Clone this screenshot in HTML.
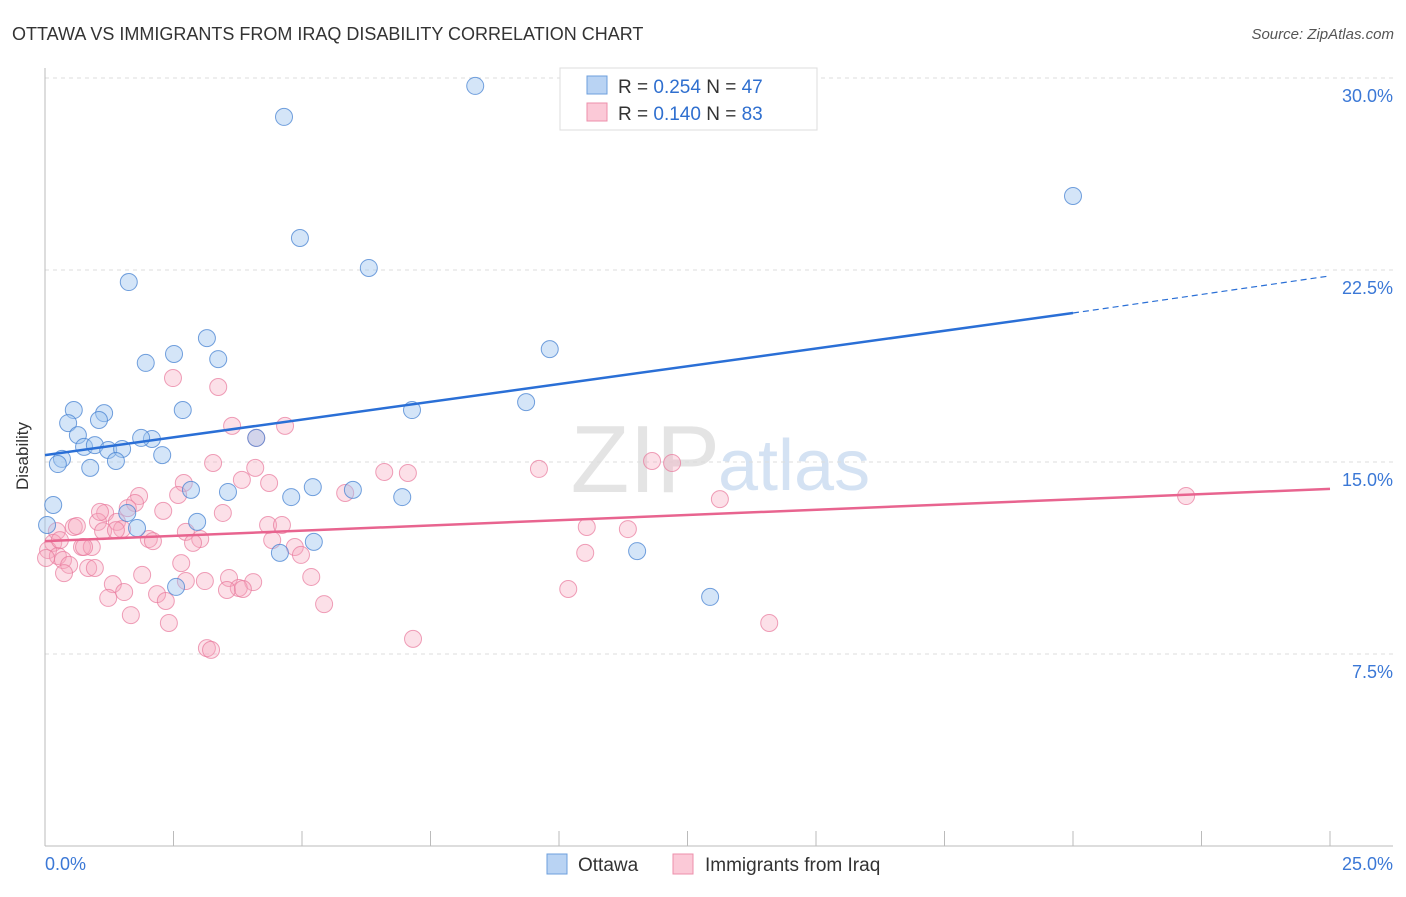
<!DOCTYPE html>
<html><head><meta charset="utf-8"><style>
body{margin:0;background:#fff;font-family:"Liberation Sans",sans-serif;}
svg text{font-family:"Liberation Sans",sans-serif;}
</style></head><body>
<svg id="c" width="1406" height="892">
<text x="12" y="40" font-size="18" fill="#333">OTTAWA VS IMMIGRANTS FROM IRAQ DISABILITY CORRELATION CHART</text>
<text x="1394" y="39" font-size="15" fill="#555" text-anchor="end" font-style="italic">Source: ZipAtlas.com</text>
<text x="720" y="492" font-size="96" fill="#e4e4e4" text-anchor="end" font-family="Liberation Serif">ZIP</text>
<text x="718" y="490" font-size="72" fill="#d4e2f3">atlas</text>
<g id="grid"></g><g id="axes"></g><g id="pts"></g><g id="lines"></g>
<g>
<rect x="560" y="68" width="257" height="62" fill="#fff" stroke="#ddd"/>
<rect x="587" y="76" width="20" height="18" fill="#b9d3f3" stroke="#6d9fdc"/>
<rect x="587" y="103" width="20" height="18" fill="#fbc9d7" stroke="#ec8fab"/>
<text x="618" y="93" font-size="19" fill="#333">R = <tspan fill="#2f6fcf">0.254</tspan>   N = <tspan fill="#2f6fcf">47</tspan></text>
<text x="618" y="120" font-size="19" fill="#333">R = <tspan fill="#2f6fcf">0.140</tspan>   N = <tspan fill="#2f6fcf">83</tspan></text>
</g>
<g>
<rect x="547" y="854" width="20" height="20" fill="#b9d3f3" stroke="#6d9fdc"/>
<text x="578" y="871" font-size="19" fill="#333">Ottawa</text>
<rect x="673" y="854" width="20" height="20" fill="#fbc9d7" stroke="#ec8fab"/>
<text x="705" y="871" font-size="19" fill="#333">Immigrants from Iraq</text>
</g>
<text x="28" y="456" font-size="17" fill="#333" transform="rotate(-90 28 456)" text-anchor="middle">Disability</text>
</svg>
<script>
const yTicks=[7.5,15,22.5,30];
const yTickLabels=["7.5%","15.0%","22.5%","30.0%"];
const xTicks=[0,2.5,5,7.5,10,12.5,15,17.5,20,22.5,25];
const xEndLabels=["0.0%","25.0%"];
const ottawaX=[8.37,4.65,20.0,4.96,6.30,1.63,3.15,9.82,2.51,1.96,3.37,2.68,0.56,1.15,9.36,7.14,0.45,1.05,0.64,2.08,1.87,4.11,0.76,0.97,1.23,1.50,2.28,0.33,0.25,0.88,1.38,0.16,2.84,3.56,5.21,4.79,5.99,6.95,1.60,2.96,1.79,0.04,4.57,5.23,11.52,2.55,12.94];
const ottawaY=[29.69,28.48,25.39,23.75,22.58,22.03,19.84,19.41,19.22,18.87,19.02,17.03,17.03,16.91,17.34,17.03,16.52,16.64,16.05,15.90,15.94,15.94,15.59,15.66,15.47,15.51,15.27,15.12,14.92,14.77,15.04,13.32,13.91,13.83,14.02,13.63,13.91,13.63,13.01,12.66,12.42,12.54,11.45,11.88,11.52,10.12,9.73];
const iraqX=[2.49,3.37,3.64,4.67,4.11,3.27,4.09,2.70,3.83,4.36,9.61,6.60,7.06,11.81,12.20,2.59,5.84,1.83,1.75,2.30,1.61,1.17,3.46,13.13,22.20,0.56,1.03,1.40,2.74,4.34,4.61,10.54,11.34,0.23,0.62,1.50,2.02,2.10,3.02,4.42,4.86,0.16,0.72,0.91,1.13,0.06,0.25,0.02,0.35,0.47,4.98,10.51,0.84,0.97,2.88,2.65,0.37,1.89,3.58,5.18,1.32,3.11,4.05,2.74,1.23,1.54,2.18,3.77,3.54,3.85,2.35,5.43,10.18,1.67,2.41,14.09,7.16,3.15,3.23,0.76,0.29,1.07,1.38];
const iraqY=[18.28,17.93,16.41,16.41,15.94,14.96,14.77,14.18,14.30,14.18,14.73,14.61,14.57,15.04,14.96,13.71,13.79,13.67,13.40,13.09,13.20,13.01,13.01,13.55,13.67,12.46,12.66,12.66,12.27,12.54,12.54,12.46,12.38,12.30,12.50,12.38,11.99,11.91,11.99,11.95,11.68,11.84,11.68,11.68,12.30,11.56,11.33,11.25,11.17,10.98,11.37,11.45,10.86,10.86,11.84,11.05,10.66,10.59,10.47,10.51,10.23,10.35,10.31,10.35,9.69,9.92,9.84,10.08,10.00,10.04,9.57,9.45,10.04,9.02,8.71,8.71,8.09,7.73,7.66,11.68,11.95,13.05,12.34];
const ottawaTrend=[15.27,20.82,22.27]; // at x=0, 20, 25
const iraqTrend=[11.91,13.95]; // at x=0, 25
const sx=v=>45+v*51.4, sy=v=>846-v*25.6;
const NS="http://www.w3.org/2000/svg";
function mk(t,a,p){const e=document.createElementNS(NS,t);for(const k in a)e.setAttribute(k,a[k]);p.appendChild(e);return e;}
const G=document.getElementById('grid'),A=document.getElementById('axes'),P=document.getElementById('pts'),L=document.getElementById('lines');
yTicks.forEach((t,i)=>{
 const l=mk('line',{x1:45,x2:1393,y1:sy(t),y2:sy(t),stroke:'#ddd','stroke-dasharray':'4,4'},G);
 
 
 const tx=mk('text',{x:1393,y:sy(t)+24,'font-size':18,fill:'#3b78d6','text-anchor':'end'},G);
 tx.textContent=yTickLabels[i];
 
 
});
const ax=mk('line',{x1:45,x2:45,y1:68,y2:846,stroke:'#bbb'},A);


const bx=mk('line',{x1:45,x2:1393,y1:846,y2:846,stroke:'#bbb'},A);


xTicks.forEach(t=>{
 const l=mk('line',{x1:sx(t),x2:sx(t),y1:831,y2:846,stroke:'#bbb'},A);
 
 
});
const xl0=mk('text',{x:45,y:870,'font-size':18,fill:'#3b78d6'},A);xl0.textContent=xEndLabels[0];


const xl1=mk('text',{x:1393,y:870,'font-size':18,fill:'#3b78d6','text-anchor':'end'},A);xl1.textContent=xEndLabels[1];


iraqX.forEach((v,i)=>{
 const c=mk('circle',{cx:sx(v),cy:sy(iraqY[i]),r:8.5,fill:'rgba(246,166,190,0.35)',stroke:'rgba(232,120,155,0.7)','stroke-width':1},P);
 
 
});
ottawaX.forEach((v,i)=>{
 const c=mk('circle',{cx:sx(v),cy:sy(ottawaY[i]),r:8.5,fill:'rgba(160,197,240,0.45)',stroke:'rgba(70,130,210,0.75)','stroke-width':1},P);
 
 
});
const t1=mk('line',{x1:sx(0),y1:sy(ottawaTrend[0]),x2:sx(20),y2:sy(ottawaTrend[1]),stroke:'#2a6fd6','stroke-width':2.5},L);


const t2=mk('line',{x1:sx(20),y1:sy(ottawaTrend[1]),x2:sx(25),y2:sy(ottawaTrend[2]),stroke:'#2a6fd6','stroke-width':1.2,'stroke-dasharray':'6,4'},L);


const t3=mk('line',{x1:sx(0),y1:sy(iraqTrend[0]),x2:sx(25),y2:sy(iraqTrend[1]),stroke:'#e8648f','stroke-width':2.5},L);


</script>
</body></html>
